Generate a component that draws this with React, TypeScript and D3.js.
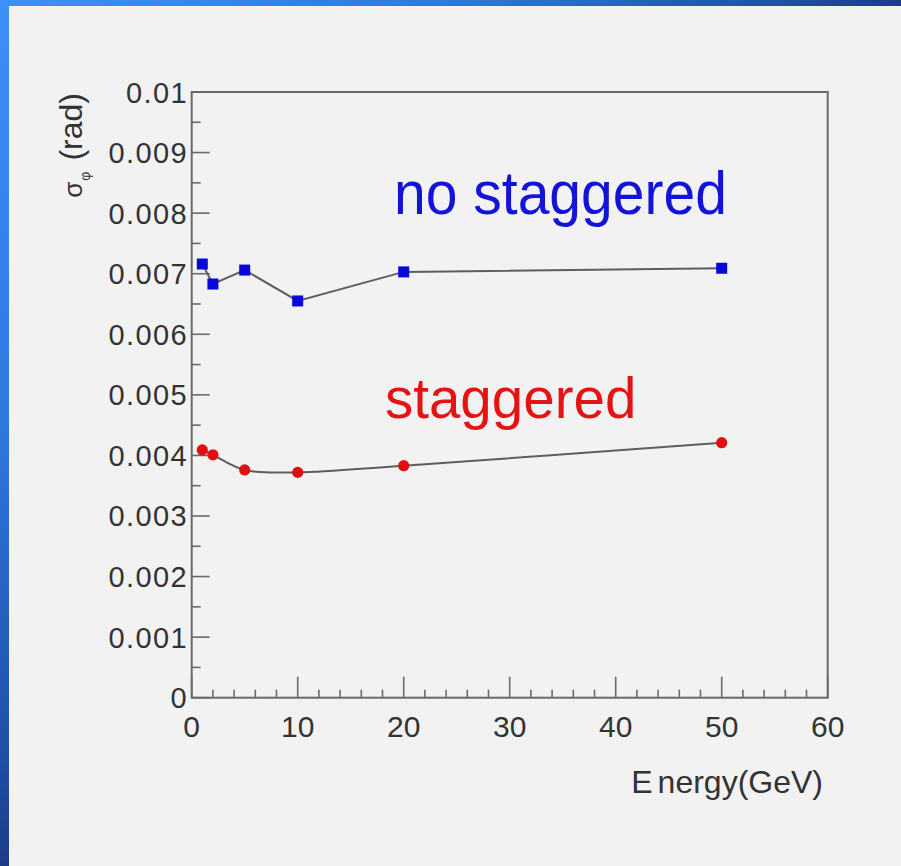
import React, { useEffect } from "react";
import * as d3 from "d3";

// Beam energies (GeV)
const energies = [1, 2, 5, 10, 20, 50];
// Angular resolution sigma_phi (rad)
const noStaggered = [0.00716, 0.00683, 0.00706, 0.00655, 0.00703, 0.00709];
const staggered = [0.00409, 0.00401, 0.00376, 0.00372, 0.00383, 0.00421];

const xTicks = [0, 10, 20, 30, 40, 50, 60];
const yTicks = [0, 0.001, 0.002, 0.003, 0.004, 0.005, 0.006, 0.007, 0.008, 0.009, 0.01];
const yTickLabels = ["0", "0.001", "0.002", "0.003", "0.004", "0.005", "0.006", "0.007", "0.008", "0.009", "0.01"];

const W = 901;
const H = 866;
const PLOT = { left: 191.7, right: 827.7, top: 92, bottom: 697.7 };
const FONT = "'Liberation Sans', Arial, Helvetica, sans-serif";
const AXIS = "#6a6a6a";

export default function App() {
  useEffect(() => {
    document.body.style.margin = "0";
  }, []);

  const x = d3.scaleLinear().domain([0, 60]).range([PLOT.left, PLOT.right]);
  const y = d3.scaleLinear().domain([0, 0.01]).range([PLOT.bottom, PLOT.top]);

  const blueLine = d3
    .line<number>()
    .x((_, i) => x(energies[i]))
    .y((v) => y(v))
    .curve(d3.curveLinear);
  const redLine = d3
    .line<number>()
    .x((_, i) => x(energies[i]))
    .y((v) => y(v))
    .curve(d3.curveCatmullRom.alpha(0.5));

  const xMinor = d3.range(0, 61, 2).filter((v) => v % 10 !== 0);
  const yMinor = d3.range(0.0005, 0.01, 0.001);

  return (
    <svg width={W} height={H} style={{ display: "block" }} fontFamily={FONT}>
      <defs>
        <radialGradient id="bg" cx="0" cy="0" r="1.1" gradientUnits="objectBoundingBox">
          <stop offset="0" stopColor="#3f8ff8" />
          <stop offset="0.45" stopColor="#2f78e0" />
          <stop offset="0.8" stopColor="#1f4ea6" />
          <stop offset="1" stopColor="#1a2c6c" />
        </radialGradient>
      </defs>
      <rect x={0} y={0} width={W} height={H} fill="url(#bg)" />
      <rect x={9} y={6} width={W - 9} height={H - 6} fill="#f2f2f2" />

      {/* frame */}
      <rect
        x={PLOT.left}
        y={PLOT.top}
        width={PLOT.right - PLOT.left}
        height={PLOT.bottom - PLOT.top}
        fill="none"
        stroke={AXIS}
        strokeWidth={2}
      />

      {/* x axis ticks */}
      {xTicks.map((t) => (
        <line key={"xt" + t} x1={x(t)} x2={x(t)} y1={PLOT.bottom} y2={PLOT.bottom - 21} stroke={AXIS} strokeWidth={1.6} />
      ))}
      {xMinor.map((t) => (
        <line key={"xm" + t} x1={x(t)} x2={x(t)} y1={PLOT.bottom} y2={PLOT.bottom - 8} stroke={AXIS} strokeWidth={1.6} />
      ))}
      {xTicks.map((t) => (
        <text key={"xl" + t} x={x(t)} y={PLOT.bottom + 39} fontSize={30} textAnchor="middle" fill="#333">
          {t}
        </text>
      ))}

      {/* y axis ticks */}
      {yTicks.map((t) => (
        <line key={"yt" + t} x1={PLOT.left} x2={PLOT.left + 18} y1={y(t)} y2={y(t)} stroke={AXIS} strokeWidth={1.6} />
      ))}
      {yMinor.map((t) => (
        <line key={"ym" + t} x1={PLOT.left} x2={PLOT.left + 9} y1={y(t)} y2={y(t)} stroke={AXIS} strokeWidth={1.6} />
      ))}
      {yTicks.map((t, i) => (
        <text
          key={"yl" + t}
          x={188}
          y={y(t) + 10.5}
          fontSize={29}
          letterSpacing={1.4}
          textAnchor="end"
          fill="#333"
        >
          {yTickLabels[i]}
        </text>
      ))}

      {/* axis titles */}
      <text x={823} y={793} fontSize={32} textAnchor="end" fill="#333">
        E<tspan dx={5}>nergy(GeV)</tspan>
      </text>
      <text transform="translate(82,93) rotate(-90)" fontSize={32} textAnchor="end" fill="#333">
        <tspan fontSize={26}>σ</tspan>
        <tspan fontSize={14} dy={8} dx={1}>φ</tspan>
        <tspan dy={-8} dx={11}>(rad)</tspan>
      </text>

      {/* series lines */}
      <path d={blueLine(noStaggered) ?? ""} fill="none" stroke="#5e5e5e" strokeWidth={2} />
      <path d={redLine(staggered) ?? ""} fill="none" stroke="#5e5e5e" strokeWidth={2} />

      {/* markers */}
      {noStaggered.map((v, i) => (
        <rect key={"b" + i} x={x(energies[i]) - 5.5} y={y(v) - 5.5} width={11} height={11} fill="#0808d8" />
      ))}
      {staggered.map((v, i) => (
        <circle key={"r" + i} cx={x(energies[i])} cy={y(v)} r={5.6} fill="#e01010" />
      ))}

      {/* series labels */}
      <text
        transform="translate(394,214) scale(0.92,1)"
        fontSize={62}
        fill="#1414d8"
      >
        no staggered
      </text>
      <text x={385} y={418} fontSize={56.5} fill="#e41414">
        staggered
      </text>
    </svg>
  );
}
